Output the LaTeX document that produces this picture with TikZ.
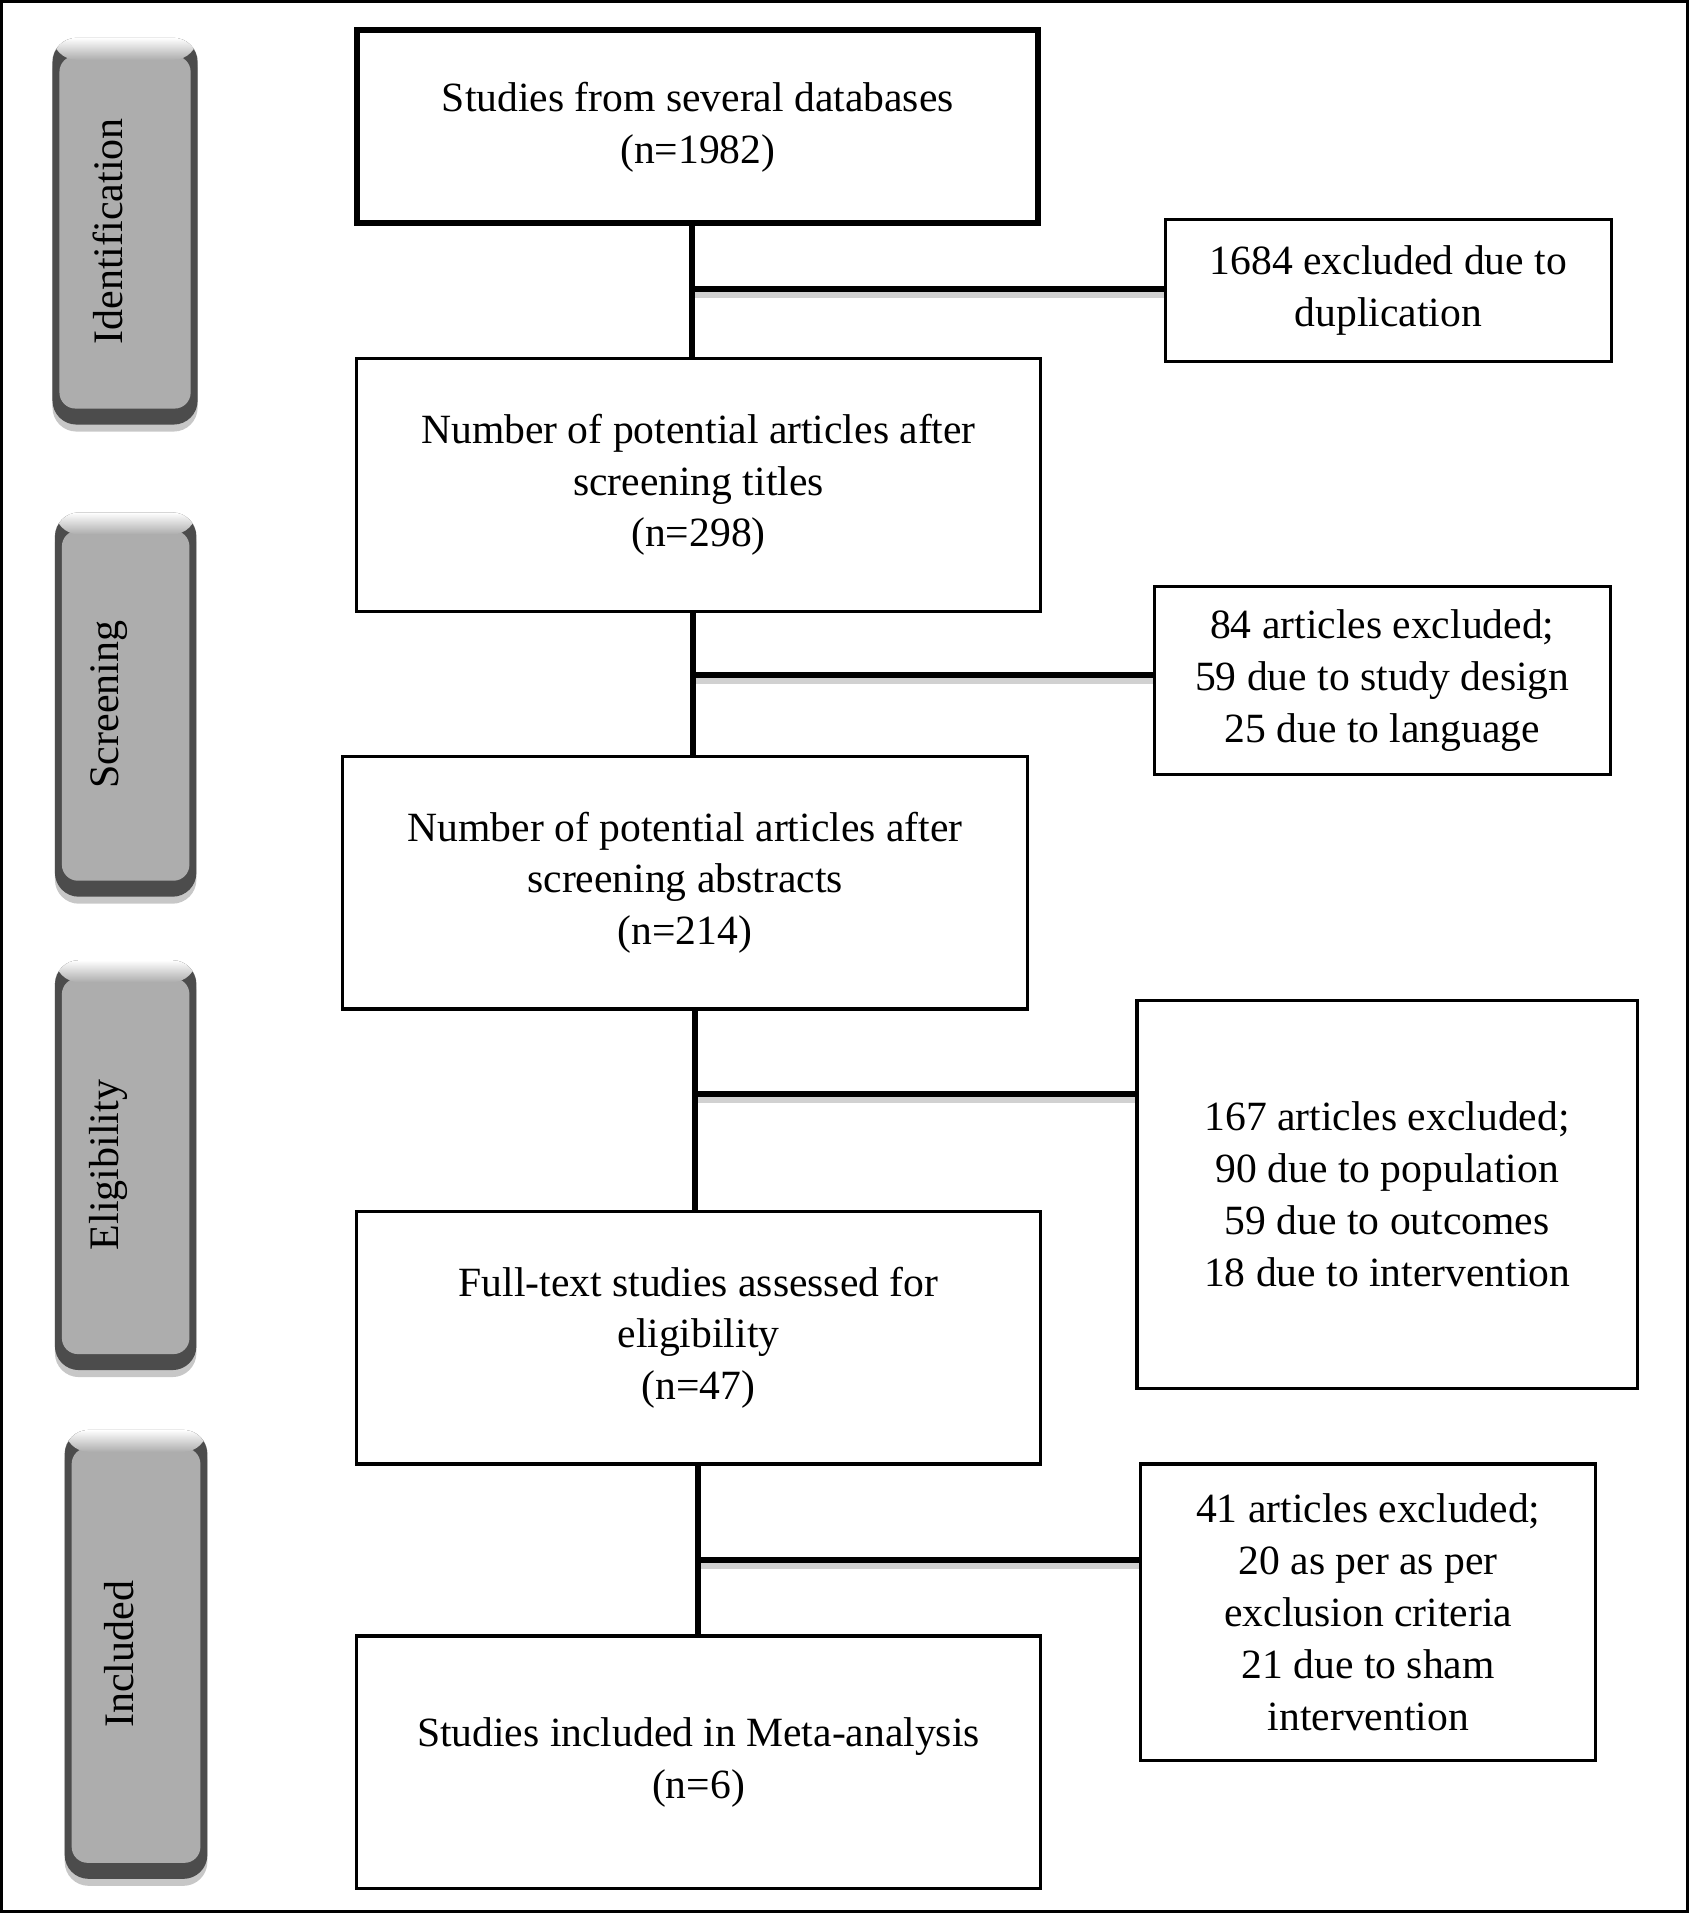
\documentclass[tikz,border=0pt]{standalone}
\usepackage{fontspec}
\setmainfont{Liberation Serif}
\usetikzlibrary{shadows}
\definecolor{phasegray}{HTML}{ADADAD}
\begin{document}
\begin{tikzpicture}[x=0.6099pt,y=-0.6099pt,
  sz/.style n args={2}{minimum width=#1*0.6099pt, minimum height=#2*0.6099pt},
  box/.style={draw, line width=1.6pt, inner sep=0pt, align=center, font=\fontsize{20.8}{25.9}\selectfont},
  topbox/.style={box, line width=3pt},
  conn/.style={line width=3pt},
  branch/.style={line width=3pt, preaction={draw=black, opacity=0.18, line width=4pt, transform canvas={yshift=-2.5pt}}},
  phase/.style={inner sep=0pt, rounded corners=12pt, fill=black!70,
    drop shadow={shadow xshift=0pt, shadow yshift=-3.5pt, opacity=0.22, fill=black},
    font=\fontsize{21}{25}\selectfont,
    path picture={
      \fill[phasegray, rounded corners=8pt] ([xshift=3.5pt,yshift=-9pt]path picture bounding box.north west) rectangle ([xshift=-3.5pt,yshift=8pt]path picture bounding box.south east);
      \shade[top color=white, bottom color=phasegray] (path picture bounding box.north west) rectangle ([yshift=-11pt]path picture bounding box.north east);
    }}
]
\useasboundingbox (0,0) rectangle (1384,1568);
\draw[line width=1.6pt] (1,1) rectangle (1383,1567);

% phase labels
\node[phase, sz={119}{317}] (p1) at (102.5,189.5) {\rotatebox{90}{Identification}\kern17pt};
\node[phase, sz={116}{315}] (p2) at (103,577.5) {\rotatebox{90}{Screening}\kern17pt};
\node[phase, sz={116}{336}] (p3) at (103,955) {\rotatebox{90}{Eligibility}\kern17pt};
\node[phase, sz={117}{368}] (p4) at (111.5,1356) {\rotatebox{90}{Included}\kern17pt};

% main boxes
\node[topbox, sz={558}{158}] (b1) at (572,104) {Studies from several databases\\(n=1982)};
\node[box, sz={561}{207}] (b2) at (572.5,397.5) {Number of potential articles after\\screening titles\\(n=298)};
\node[box, sz={561}{207}] (b3) at (561.5,723.5) {Number of potential articles after\\screening abstracts\\(n=214)};
\node[box, sz={561}{207}] (b4) at (572.5,1096.5) {Full-text studies assessed for\\eligibility\\(n=47)};
\node[box, sz={561}{207}] (b5) at (572.5,1444.5) {Studies included in Meta-analysis\\(n=6)};

% exclusion boxes
\node[box, sz={366}{116}] (r1) at (1138,238) {1684 excluded due to\\duplication};
\node[box, sz={374}{154}] (r2) at (1133,558) {84 articles excluded;\\59 due to study design\\25 due to language};
\node[box, sz={410}{318}] (r3) at (1137,979) {167 articles excluded;\\90 due to population\\59 due to outcomes\\18 due to intervention};
\node[box, sz={373}{243}] (r4) at (1121.5,1321.5) {41 articles excluded;\\20 as per as per\\exclusion criteria\\21 due to sham\\intervention};

% connectors
\coordinate (j1) at (567,237);
\coordinate (j2) at (568,553);
\coordinate (j3) at (570,897);
\coordinate (j4) at (572,1279);
\draw[conn] (b1.south -| j1) -- (b2.north -| j1);
\draw[branch] (j1) -- (j1 -| r1.west);
\draw[conn] (b2.south -| j2) -- (b3.north -| j2);
\draw[branch] (j2) -- (j2 -| r2.west);
\draw[conn] (b3.south -| j3) -- (b4.north -| j3);
\draw[branch] (j3) -- (j3 -| r3.west);
\draw[conn] (b4.south -| j4) -- (b5.north -| j4);
\draw[branch] (j4) -- (j4 -| r4.west);
\end{tikzpicture}
\end{document}
